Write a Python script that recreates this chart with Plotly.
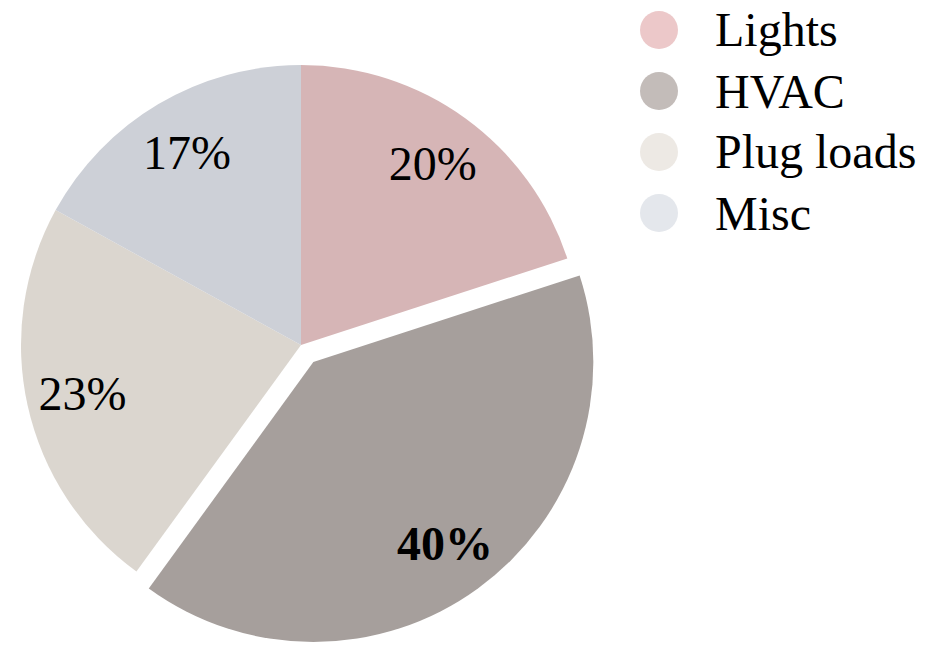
import plotly.graph_objects as go

categories = ["Lights", "HVAC", "Plug loads", "Misc"]
values = [20, 40, 23, 17]
pct_labels = ["20%", "<b>40%</b>", "23%", "17%"]
pull_values = [0, 0.075, 0, 0]
slice_colors = ["#d6b5b6", "#a69f9c", "#dbd6cf", "#cdd0d7"]
legend_colors = ["#ecc8c9", "#c3bcb9", "#ede9e4", "#e4e7ec"]

FONT = "Liberation Serif"
FS = 48
DOMAIN = dict(x=[0, 602 / 932], y=[0, 1])

fig = go.Figure()
# filled pie
fig.add_trace(go.Pie(
    labels=categories,
    values=values,
    textinfo="none",
    sort=False,
    direction="clockwise",
    rotation=0,
    pull=pull_values,
    marker=dict(colors=slice_colors, line=dict(width=0)),
    domain=DOMAIN,
    showlegend=False,
    hoverinfo="label+percent",
))
# transparent ring carrying the percentage labels (places them near the rim)
fig.add_trace(go.Pie(
    labels=categories,
    values=values,
    text=pct_labels,
    textinfo="text",
    textposition="inside",
    insidetextorientation="horizontal",
    hole=0.6,
    sort=False,
    direction="clockwise",
    rotation=0,
    pull=pull_values,
    marker=dict(colors=["rgba(0,0,0,0)"] * len(values), line=dict(width=0)),
    textfont=dict(family=FONT, size=FS, color="#000000"),
    domain=DOMAIN,
    showlegend=False,
    hoverinfo="skip",
))

# custom legend with circular markers (pixel rows converted to paper units)
T, B, H, W = 44, 5, 651, 932
plot_h = H - T - B
shapes = []
annotations = []
row_px = [30, 91, 152, 213]
for name, col, ypx in zip(categories, legend_colors, row_px):
    yc = (H - B - ypx) / plot_h
    rr = 19 / plot_h
    shapes.append(dict(type="circle", xref="paper", yref="paper",
                       x0=640 / W, x1=678 / W, y0=yc - rr, y1=yc + rr,
                       fillcolor=col, line=dict(width=0)))
    annotations.append(dict(xref="paper", yref="paper", x=713 / W, y=yc,
                            text=name, showarrow=False, xanchor="left",
                            yanchor="middle",
                            font=dict(family=FONT, size=FS, color="#000000")))

fig.update_layout(
    width=W, height=H,
    margin=dict(l=0, r=0, t=T, b=B),
    paper_bgcolor="white",
    plot_bgcolor="white",
    shapes=shapes,
    annotations=annotations,
)

fig.write_html("out.html", config={"displayModeBar": False},
               post_script="document.body.style.margin='0';")
